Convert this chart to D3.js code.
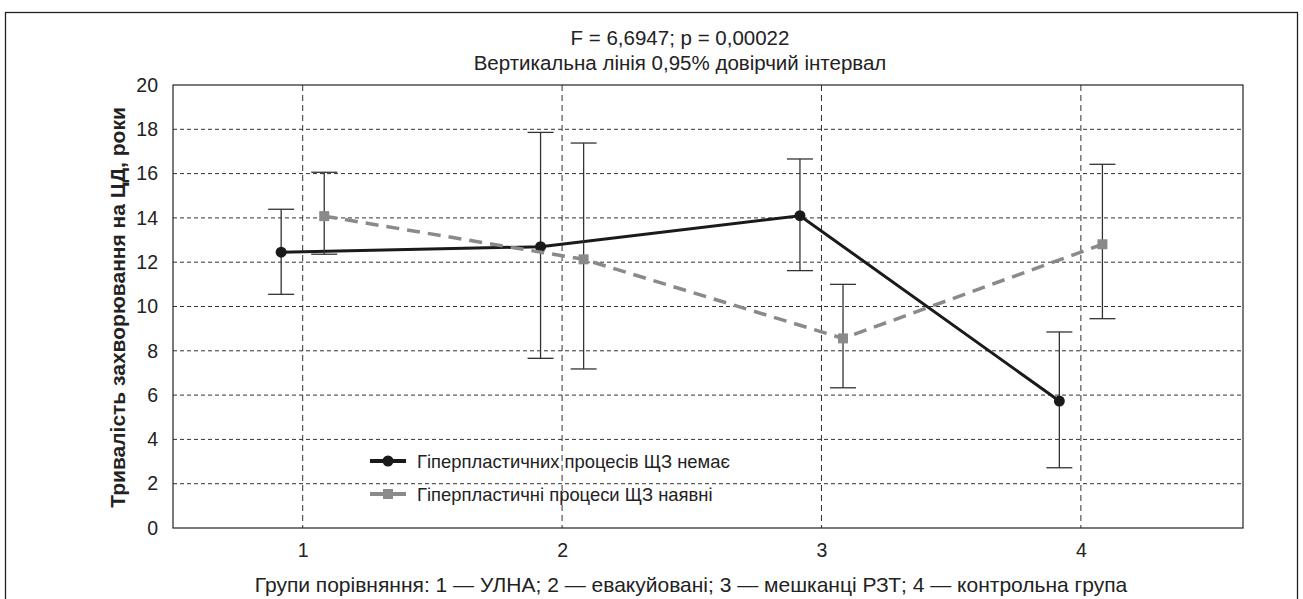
<!DOCTYPE html>
<html>
<head>
<meta charset="utf-8">
<script src="https://cdn.jsdelivr.net/npm/d3@7"></script>
<style>
  body { margin: 0; background: #fff; }
  svg text { font-family: "Liberation Sans", Arial, sans-serif; fill: #222; }
</style>
</head>
<body>
<div class="canvas"></div>
<script>
// Data
const groups = [1, 2, 3, 4];
const yTicks = [0, 2, 4, 6, 8, 10, 12, 14, 16, 18, 20];
const seriesNames = ['Гіперпластичних процесів ЩЗ немає', 'Гіперпластичні процеси ЩЗ наявні'];
const noMean = [12.45, 12.7, 14.1, 5.73];
const noLow = [10.55, 7.66, 11.62, 2.72];
const noHigh = [14.39, 17.86, 16.66, 8.85];
const yesMean = [14.08, 12.13, 8.56, 12.81];
const yesLow = [12.36, 7.18, 6.33, 9.45];
const yesHigh = [16.06, 17.38, 11.0, 16.42];

const W = 1303, H = 599;
const margin = { top: 85, right: 60, bottom: 71, left: 173 };
const innerW = W - margin.left - margin.right;
const innerH = H - margin.top - margin.bottom;

const svg = d3.select('.canvas').append('svg')
    .attr('width', W)
    .attr('height', H);

// outer frame
svg.append('rect')
    .attr('x', 5.5).attr('y', 12.5)
    .attr('width', 1292).attr('height', 620)
    .attr('fill', 'none').attr('stroke', '#222').attr('stroke-width', 1.3);

// titles
svg.append('text').attr('x', 680).attr('y', 45).attr('text-anchor', 'middle')
    .style('font-size', '20.5px').text('F = 6,6947; p = 0,00022');
svg.append('text').attr('x', 680).attr('y', 70).attr('text-anchor', 'middle')
    .style('font-size', '20.5px').text('Вертикальна лінія 0,95% довірчий інтервал');

const g = svg.append('g').attr('transform', `translate(${margin.left},${margin.top})`);

const x = d3.scaleLinear().domain([0.5, 4.625]).range([0, innerW]);
const y = d3.scaleLinear().domain([0, 20]).range([innerH, 0]);
const off = 0.083;

// grid
g.selectAll('.hgrid').data(yTicks.filter(d => d > 0 && d < 20)).enter().append('line')
    .attr('x1', 0).attr('x2', innerW)
    .attr('y1', d => y(d)).attr('y2', d => y(d))
    .attr('stroke', '#333').attr('stroke-width', 1).attr('stroke-dasharray', '4,3');
g.selectAll('.vgrid').data(groups).enter().append('line')
    .attr('x1', d => x(d)).attr('x2', d => x(d))
    .attr('y1', 0).attr('y2', innerH)
    .attr('stroke', '#333').attr('stroke-width', 1).attr('stroke-dasharray', '6,4');

// frame
g.append('rect').attr('width', innerW).attr('height', innerH)
    .attr('fill', 'none').attr('stroke', '#222').attr('stroke-width', 1.2);

// axes
const yAxis = d3.axisLeft(y).tickValues(yTicks).tickSize(0).tickPadding(15);
const yg = g.append('g').call(yAxis);
yg.select('.domain').remove();
yg.selectAll('text').style('font-size', '19.5px').style('fill', '#222');

const xAxis = d3.axisBottom(x).tickValues(groups).tickFormat(d3.format('d')).tickSize(0).tickPadding(15);
const xg = g.append('g').attr('transform', `translate(0,${innerH})`).call(xAxis);
xg.select('.domain').remove();
xg.selectAll('text').style('font-size', '19.5px').style('fill', '#222');

svg.append('text')
    .attr('transform', `translate(125,${margin.top + innerH / 2 + 1}) rotate(-90)`)
    .attr('text-anchor', 'middle')
    .style('font-size', '21px').style('font-weight', 'bold')
    .text('Тривалість захворювання на ЦД, роки');

svg.append('text').attr('x', 691).attr('y', 592).attr('text-anchor', 'middle')
    .style('font-size', '21px')
    .text('Групи порівняння: 1 — УЛНА; 2 — евакуйовані; 3 — мешканці РЗТ; 4 — контрольна група');

// series
const series = [
    { mean: noMean, low: noLow, high: noHigh, dx: -off, color: '#1a1a1a', dash: null, width: 3, marker: 'circle' },
    { mean: yesMean, low: yesLow, high: yesHigh, dx: off, color: '#8a8a8a', dash: '13,8', width: 3.5, marker: 'square' }
];

series.forEach(s => {
    const pts = groups.map((gr, i) => ({ x: gr + s.dx, m: s.mean[i], lo: s.low[i], hi: s.high[i] }));
    // error bars
    const eb = g.append('g');
    eb.selectAll('.v').data(pts).enter().append('line')
        .attr('x1', d => x(d.x)).attr('x2', d => x(d.x))
        .attr('y1', d => y(d.lo)).attr('y2', d => y(d.hi))
        .attr('stroke', '#333').attr('stroke-width', 1.3);
    [d => d.lo, d => d.hi].forEach(f => {
        eb.selectAll(null).data(pts).enter().append('line')
            .attr('x1', d => x(d.x) - 13).attr('x2', d => x(d.x) + 13)
            .attr('y1', d => y(f(d))).attr('y2', d => y(f(d)))
            .attr('stroke', '#333').attr('stroke-width', 1.3);
    });
    const line = d3.line().x(d => x(d.x)).y(d => y(d.m));
    g.append('path').datum(pts).attr('d', line)
        .attr('fill', 'none').attr('stroke', s.color).attr('stroke-width', s.width)
        .attr('stroke-dasharray', s.dash);
    if (s.marker === 'circle') {
        g.selectAll(null).data(pts).enter().append('circle')
            .attr('cx', d => x(d.x)).attr('cy', d => y(d.m)).attr('r', 5.5)
            .attr('fill', s.color);
    } else {
        g.selectAll(null).data(pts).enter().append('rect')
            .attr('x', d => x(d.x) - 5).attr('y', d => y(d.m) - 5)
            .attr('width', 10).attr('height', 10).attr('fill', s.color);
    }
});

// legend
const legend = svg.append('g').attr('transform', 'translate(370,461)');
seriesNames.forEach((name, i) => {
    const s = series[i];
    const row = legend.append('g').attr('transform', `translate(0,${i * 33})`);
    row.append('line').attr('x1', 0).attr('x2', 36).attr('y1', 0).attr('y2', 0)
        .attr('stroke', s.color).attr('stroke-width', 4);
    if (s.marker === 'circle') {
        row.append('circle').attr('cx', 18).attr('cy', 0).attr('r', 5.5).attr('fill', s.color);
    } else {
        row.append('rect').attr('x', 13).attr('y', -5).attr('width', 10).attr('height', 10).attr('fill', s.color);
    }
    row.append('text').attr('x', 47).attr('y', 6.5).style('font-size', '18.4px').text(name);
});
</script>
</body>
</html>
